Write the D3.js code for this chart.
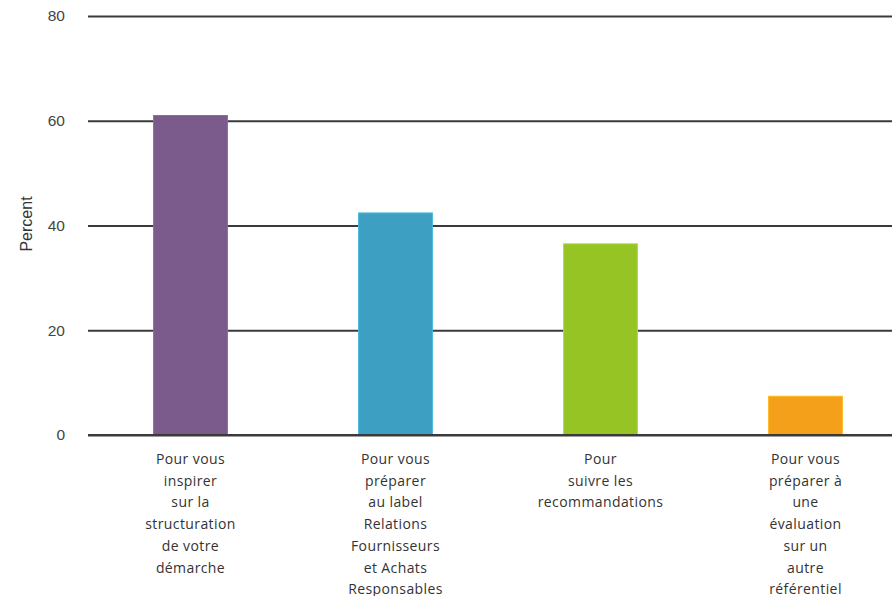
<!DOCTYPE html>
<html><head><meta charset="utf-8">
<script src="https://cdn.jsdelivr.net/npm/d3@7"></script>
<style>body{margin:0;background:#fff}svg{display:block}</style>
</head><body>
<script>
const categories = [
  ["Pour vous","inspirer","sur la","structuration","de votre","démarche"],
  ["Pour vous","préparer","au label","Relations","Fournisseurs","et Achats","Responsables"],
  ["Pour","suivre les","recommandations"],
  ["Pour vous","préparer à","une","évaluation","sur un","autre","référentiel"]
];
const values = [61, 42.4, 36.5, 7.4];
const colors = ["#7a5b8b", "#3d9fc1", "#95c424", "#f5a01a"];
const yTicks = [0, 20, 40, 60, 80];
const yLabel = "Percent";

const W = 892, H = 596;
const svg = d3.select("body").append("svg").attr("width", W).attr("height", H);
const font = "'Open Sans', sans-serif";
const axisFont = "'Liberation Sans', Arial, sans-serif";

const x = d3.scaleBand().domain(d3.range(categories.length)).range([88, 908]).paddingInner(0.64).paddingOuter(0.32);
const y = d3.scaleLinear().domain([0, 80]).range([435, 16]);

// grid
const yAxis = d3.axisLeft(y).tickValues(yTicks).tickSize(-(908 - 88)).tickPadding(23);
const ga = svg.append("g").attr("transform", "translate(88,0)").call(yAxis);
ga.select(".domain").remove();
ga.selectAll(".tick line").attr("stroke", "#3a3a3a").attr("stroke-width", 2);
ga.selectAll(".tick text").attr("fill", "#444").attr("font-size", 15.5).attr("font-family", axisFont);

// bars
svg.selectAll("rect.bar").data(values).join("rect").attr("class", "bar")
  .attr("x", (d, i) => x(i)).attr("width", x.bandwidth())
  .attr("y", d => y(d)).attr("height", d => y(0) - y(d))
  .attr("fill", (d, i) => colors[i])
  .attr("stroke", (d, i) => d3.color(colors[i]).brighter(0.4)).attr("stroke-width", 1);

// baseline over bars
svg.append("line").attr("x1", 88).attr("x2", W).attr("y1", y(0)).attr("y2", y(0)).attr("stroke", "#3a3a3a").attr("stroke-width", 2);

// category labels
categories.forEach((lines, i) => {
  const t = svg.append("text").attr("text-anchor", "middle").attr("font-family", font)
    .attr("font-size", 14).attr("letter-spacing", 0.4).attr("fill", "#333");
  lines.forEach((l, j) => {
    t.append("tspan").attr("x", x(i) + x.bandwidth() / 2).attr("y", 464 + j * 21.7).text(l);
  });
});

// y label
svg.append("text").attr("transform", "translate(32,224) rotate(-90)").attr("text-anchor", "middle")
  .attr("font-family", axisFont).attr("font-size", 16).attr("fill", "#333").text(yLabel);
</script>
</body></html>
